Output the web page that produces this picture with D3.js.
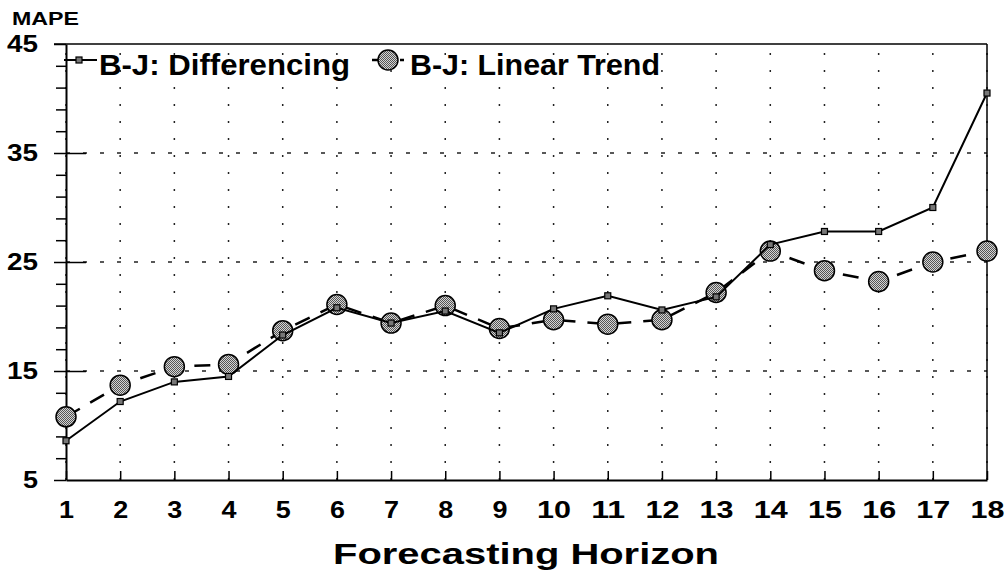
<!DOCTYPE html>
<meta charset="utf-8">
<title>MAPE by Forecasting Horizon</title>
<style>
body { margin: 0; background: #fff; }
text { font-family: "Liberation Sans", Arial, Helvetica, sans-serif; font-weight: bold; fill: #000; }
</style>
<svg id="chart" width="1007" height="571"></svg>
<script src="https://cdn.jsdelivr.net/npm/d3@7"></script>
<script>

// values
var horizon = [1, 2, 3, 4, 5, 6, 7, 8, 9, 10, 11, 12, 13, 14, 15, 16, 17, 18];
var differencing = [8.6, 12.2, 14.0, 14.5, 18.3, 20.8, 19.4, 20.5, 18.5, 20.7, 21.9, 20.6, 21.8, 26.6, 27.8, 27.8, 30.0, 40.5];
var linearTrend = [10.8, 13.7, 15.4, 15.6, 18.7, 21.1, 19.4, 21.0, 18.9, 19.7, 19.3, 19.7, 22.2, 26.0, 24.2, 23.2, 25.0, 26.0];
var yLabels = [5, 15, 25, 35, 45];
var yMinor = [7, 9, 11, 13, 17, 19, 21, 23, 27, 29, 31, 33, 37, 39, 41, 43];
var seriesNames = ["B-J: Differencing", "B-J: Linear Trend"];

var svg = d3.select("#chart"),
    plotLeft = 66, plotRight = 987, plotTop = 44, plotBottom = 480;

var x = d3.scaleLinear().domain([1, 18]).range([plotLeft, plotRight]);
var y = d3.scaleLinear().domain([5, 45]).range([plotBottom, plotTop]);

// grey dotted fill for the round markers
var pat = svg.append("defs").append("pattern")
    .attr("id", "dots")
    .attr("width", 2).attr("height", 2)
    .attr("patternUnits", "userSpaceOnUse");
pat.append("rect").attr("width", 2).attr("height", 2).attr("fill", "#d4d4d4");
pat.append("rect").attr("width", 1).attr("height", 1).attr("fill", "#555");
pat.append("rect").attr("x", 1).attr("y", 1).attr("width", 1).attr("height", 1).attr("fill", "#555");

// vertical dotted grid
svg.append("g")
  .selectAll("line")
  .data(horizon)
  .enter().append("line")
    .attr("x1", function(d) { return x(d); })
    .attr("x2", function(d) { return x(d); })
    .attr("y1", plotBottom)
    .attr("y2", plotTop)
    .attr("stroke", "#222")
    .attr("stroke-width", 1.5)
    .attr("stroke-dasharray", "2,15");

// horizontal dashed grid
svg.append("g")
  .selectAll("line")
  .data([15, 25, 35])
  .enter().append("line")
    .attr("x1", plotLeft)
    .attr("x2", plotRight)
    .attr("y1", function(d) { return y(d); })
    .attr("y2", function(d) { return y(d); })
    .attr("stroke", "#222")
    .attr("stroke-width", 1.5)
    .attr("stroke-dasharray", "4,13");

// frame
svg.append("line").attr("x1", plotLeft - 12).attr("x2", plotRight).attr("y1", plotTop).attr("y2", plotTop)
    .attr("stroke", "#000").attr("stroke-width", 1.5);
svg.append("line").attr("x1", plotRight).attr("x2", plotRight).attr("y1", plotTop).attr("y2", plotBottom)
    .attr("stroke", "#000").attr("stroke-width", 1.5);

// y axis: minor ticks
svg.append("g")
    .attr("transform", "translate(" + plotLeft + ",0)")
    .call(d3.axisLeft(y).tickValues(yMinor).tickSize(10).tickFormat(""))
    .call(function(g) { g.select(".domain").remove(); })
    .selectAll("line").attr("stroke-width", 1.5);

// y axis: labelled ticks
var yAxis = svg.append("g")
    .attr("transform", "translate(" + plotLeft + ",0)")
    .call(d3.axisLeft(y).tickValues(yLabels).tickSizeInner(12).tickSizeOuter(0).tickPadding(16));
yAxis.select(".domain").attr("stroke-width", 2);
yAxis.selectAll("line").attr("stroke-width", 1.5);
yAxis.selectAll(".tick")
  .filter(function(d) { return d > 5 && d < 45; })
  .append("line")
    .attr("x1", 0).attr("x2", 20)
    .attr("stroke", "#000").attr("stroke-width", 1.5);
yAxis.selectAll("text")
    .attr("font-size", 23)
    .attr("font-family", null)
    .attr("textLength", function(d) { return d < 10 ? 15 : 31; })
    .attr("lengthAdjust", "spacingAndGlyphs");

// x axis
var xAxis = svg.append("g")
    .attr("transform", "translate(0," + plotBottom + ")")
    .call(d3.axisBottom(x).tickValues(horizon).tickFormat(d3.format("d")).tickSizeInner(-9).tickSizeOuter(0).tickPadding(22));
xAxis.select(".domain").attr("stroke-width", 2);
xAxis.selectAll("line").attr("stroke-width", 1.5);
xAxis.selectAll("text")
    .attr("font-size", 23)
    .attr("font-family", null)
    .attr("textLength", function(d) { return d < 10 ? 15 : 34; })
    .attr("lengthAdjust", "spacingAndGlyphs");

// axis titles
svg.append("text")
    .attr("x", 12).attr("y", 25)
    .attr("font-size", 19)
    .attr("textLength", 67)
    .attr("lengthAdjust", "spacingAndGlyphs")
    .text("MAPE");

svg.append("text")
    .attr("x", 526).attr("y", 564)
    .attr("text-anchor", "middle")
    .attr("font-size", 29)
    .attr("textLength", 386)
    .attr("lengthAdjust", "spacingAndGlyphs")
    .text("Forecasting Horizon");

// series: linear trend (dashed, round markers) below differencing
var line = d3.line()
    .x(function(d, i) { return x(horizon[i]); })
    .y(function(d) { return y(d); });

svg.append("path")
    .datum(linearTrend)
    .attr("d", line)
    .attr("fill", "none")
    .attr("stroke", "#000")
    .attr("stroke-width", 2.5)
    .attr("stroke-dasharray", "16,12");

svg.append("g")
  .selectAll("circle")
  .data(linearTrend)
  .enter().append("circle")
    .attr("cx", function(d, i) { return x(horizon[i]); })
    .attr("cy", function(d) { return y(d); })
    .attr("r", 10)
    .attr("fill", "url(#dots)")
    .attr("stroke", "#000")
    .attr("stroke-width", 1.5);

svg.append("path")
    .datum(differencing)
    .attr("d", line)
    .attr("fill", "none")
    .attr("stroke", "#000")
    .attr("stroke-width", 2);

svg.append("g")
  .selectAll("rect")
  .data(differencing)
  .enter().append("rect")
    .attr("x", function(d, i) { return x(horizon[i]) - 3; })
    .attr("y", function(d) { return y(d) - 3; })
    .attr("width", 6).attr("height", 6)
    .attr("fill", "#777")
    .attr("stroke", "#000")
    .attr("stroke-width", 1.2);

// legend
var legend = svg.append("g");
legend.append("line")
    .attr("x1", 64).attr("x2", 97).attr("y1", 60).attr("y2", 60)
    .attr("stroke", "#000").attr("stroke-width", 2);
legend.append("rect")
    .attr("x", 76).attr("y", 57).attr("width", 6).attr("height", 6)
    .attr("fill", "#777").attr("stroke", "#000").attr("stroke-width", 1.2);
legend.append("text")
    .attr("x", 99).attr("y", 75)
    .attr("font-size", 29)
    .attr("textLength", 251)
    .attr("lengthAdjust", "spacingAndGlyphs")
    .text(seriesNames[0]);

legend.append("line")
    .attr("x1", 372).attr("x2", 404).attr("y1", 60).attr("y2", 60)
    .attr("stroke", "#000").attr("stroke-width", 2.5)
    .attr("stroke-dasharray", "8,6");
legend.append("circle")
    .attr("cx", 388).attr("cy", 60).attr("r", 10)
    .attr("fill", "url(#dots)").attr("stroke", "#000").attr("stroke-width", 1.5);
legend.append("text")
    .attr("x", 410).attr("y", 75)
    .attr("font-size", 29)
    .attr("textLength", 250)
    .attr("lengthAdjust", "spacingAndGlyphs")
    .text(seriesNames[1]);

</script>
